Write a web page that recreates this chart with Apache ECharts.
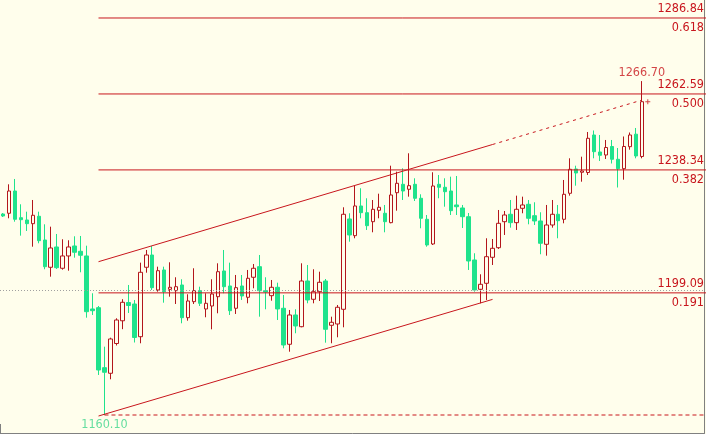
<!DOCTYPE html>
<html><head><meta charset="utf-8">
<script src="https://cdn.jsdelivr.net/npm/echarts@6/dist/echarts.min.js"></script>
<style>html,body{margin:0;padding:0;background:#fffeec;}#c{width:706px;height:434px;}</style>
</head><body><div id="c"></div>
<script>
// ---- data ----
const opens = [1224.27,1224.50,1231.61,1223.09,1222.36,1221.18,1223.54,1215.97,1207.26,1213.74,
1206.94,1210.87,1214.06,1212.37,1210.87,1193.95,1194.36,1175.21,1173.42,1182.93,
1190.18,1196.02,1195.54,1185.10,1207.26,1211.18,1200.01,1206.40,1200.23,1199.79,
1201.61,1191.17,1196.28,1199.79,1193.95,1194.90,1197.87,1206.08,1201.29,1194.17,
1201.29,1197.68,1204.07,1207.45,1199.79,1198.19,1200.87,1194.17,1182.68,1192.03,
1188.29,1202.88,1197.04,1199.47,1202.88,1188.74,1189.16,1193.85,1222.68,1217.35,
1226.83,1224.69,1221.81,1225.45,1224.50,1221.50,1231.07,1233.75,1232.16,1233.75,
1229.29,1222.58,1214.70,1233.75,1232.80,1231.61,1227.15,1226.19,1223.41,1209.59,
1200.23,1202.15,1210.45,1213.51,1221.81,1224.18,1221.50,1226.09,1227.37,1223.73,
1222.04,1214.60,1220.76,1224.18,1222.58,1230.88,1238.64,1237.59,1237.52,1249.49,
1244.07,1243.11,1245.82,1241.74,1238.73,1245.76,1249.75,1242.63];
const closes = [1223.63,1231.61,1222.58,1222.45,1221.18,1223.86,1215.75,1207.45,1213.42,1207.13,
1210.87,1213.74,1212.05,1211.09,1193.08,1193.40,1174.47,1173.74,1184.37,1190.43,
1196.08,1195.06,1184.85,1205.66,1211.18,1200.75,1206.17,1199.47,1200.87,1201.06,
1191.17,1196.50,1199.79,1195.76,1195.76,1198.73,1205.85,1201.06,1193.40,1200.75,
1198.10,1203.75,1206.94,1199.79,1199.37,1200.87,1193.95,1182.45,1192.03,1188.52,
1202.88,1196.82,1199.47,1202.47,1187.46,1189.70,1194.49,1224.18,1217.57,1226.83,
1224.69,1220.54,1225.77,1226.41,1221.81,1230.34,1234.07,1231.61,1233.31,1229.29,
1222.90,1214.38,1233.21,1232.80,1231.39,1225.33,1226.60,1223.41,1209.27,1200.01,
1201.83,1210.64,1213.32,1221.30,1223.95,1221.50,1225.77,1227.15,1222.90,1222.04,
1214.92,1220.76,1224.18,1222.13,1230.56,1238.54,1237.36,1238.00,1248.44,1244.16,
1243.01,1245.50,1241.74,1238.73,1245.82,1249.49,1242.79,1260.12];
const lows = [1223.31,1222.90,1221.81,1217.35,1218.85,1213.83,1214.92,1206.62,1204.26,1206.71,
1206.50,1206.17,1210.32,1205.66,1191.17,1192.03,1172.88,1160.10,1171.50,1182.29,
1187.50,1192.67,1183.25,1183.00,1205.53,1200.01,1199.47,1195.96,1197.87,1195.54,
1189.38,1190.21,1195.54,1194.90,1191.30,1187.46,1192.57,1198.96,1192.03,1192.35,
1196.82,1195.76,1200.55,1191.49,1193.85,1196.59,1190.43,1181.40,1180.31,1186.19,
1188.10,1195.76,1195.76,1196.50,1183.19,1183.00,1184.91,1188.10,1215.43,1216.52,
1222.90,1219.17,1218.43,1222.90,1218.43,1221.30,1225.33,1228.74,1229.80,1228.42,
1219.71,1213.83,1214.38,1229.29,1226.60,1223.95,1223.95,1219.80,1206.40,1199.47,
1195.76,1196.82,1207.99,1213.10,1217.57,1219.90,1219.17,1224.50,1220.98,1220.76,
1211.41,1210.96,1219.90,1216.52,1221.30,1230.12,1233.31,1234.58,1236.72,1242.05,
1241.19,1241.83,1240.39,1232.73,1235.22,1244.80,1242.05,1242.05];
const highs = [1224.59,1233.75,1235.45,1227.37,1225.01,1228.74,1225.01,1220.98,1220.22,1217.89,
1216.20,1215.88,1217.15,1217.25,1214.15,1198.96,1194.90,1181.91,1184.78,1190.98,
1197.07,1201.61,1196.82,1208.73,1212.78,1214.06,1207.45,1207.45,1208.85,1204.07,
1203.43,1198.64,1206.94,1201.06,1198.96,1203.43,1208.53,1212.78,1208.73,1204.80,
1204.80,1206.40,1208.31,1211.18,1204.07,1203.20,1202.34,1198.41,1193.63,1193.85,
1208.53,1207.99,1206.62,1205.85,1203.52,1191.49,1195.22,1226.41,1224.50,1233.21,
1232.48,1229.29,1228.74,1230.75,1227.15,1239.69,1237.78,1238.86,1243.65,1235.67,
1230.56,1223.95,1237.59,1236.72,1235.67,1236.18,1236.40,1227.15,1224.59,1211.73,
1205.02,1216.52,1216.29,1225.55,1225.23,1228.74,1230.12,1229.80,1228.74,1228.01,
1224.82,1227.15,1228.74,1227.15,1235.13,1242.05,1239.69,1242.56,1250.45,1250.93,
1249.49,1247.90,1247.90,1245.34,1249.01,1250.29,1251.73,1266.70];

const slotCount = 118;                       // candle slots incl. empty right margin
const categories = Array.from({length: slotCount}, (_, i) => String(i));

const fibPrices = [1286.84, 1262.59, 1238.34, 1199.09];
const fibRatios = ['0.618', '0.500', '0.382', '0.191'];
const fibStartIndex = 16;
const fibEndIndex = 118;                     // one slot past the last, reaches the right edge
const baseLevel = 1160.10;
const baseLevelStartIndex = 17;
const priceLine = 1199.79;

const channelUpper = [[16, 1209.04], [82, 1246.46]];
const channelUpperRay = [[82, 1246.46], [107, 1260.63]];
const channelLower = [[16, 1159.78], [82, 1197.01]];

const highMark = [[107, 1266.70]];
const lowMark = [[17, 1160.10]];
const bidMark = [[108, 1260.12]];

const yMin = 1154.354, yMax = 1292.586;

// ---- style ----
const BG = '#fffeec', RED = '#c8161d', CRED = '#b3161c', GREEN = '#1fe38c', LGREEN = '#3ed68c', AXIS = '#808080';
const FONT = "'DejaVu Sans Condensed', 'DejaVu Sans', sans-serif";
const FS = 12.5;
const labelStyle = {color: RED, fontFamily: FONT, fontSize: FS, distance: [2, 3]};

const ohlc = opens.map((o, i) => [o, closes[i], lows[i], highs[i]]);

const labelLines = [];
fibPrices.forEach((v, i) => {
  labelLines.push([
    {coord: [fibStartIndex, v], label: {show: true, position: 'insideEndTop', formatter: v.toFixed(2)}},
    {x: '100%', yAxis: v}
  ]);
  labelLines.push([
    {coord: [fibStartIndex, v], label: {show: true, position: 'insideEndBottom', formatter: fibRatios[i]}},
    {x: '100%', yAxis: v}
  ]);
});

const fibSeries = fibPrices.map((v) => ({
  type: 'line', data: [[fibStartIndex, v], [fibEndIndex, v]], symbol: 'none', z: 6, clip: false,
  lineStyle: {color: RED, width: 1}
}));

const chart = echarts.init(document.getElementById('c'), null, {renderer: 'canvas'});
chart.setOption({
  animation: false,
  backgroundColor: BG,
  grid: {left: -3.5, top: 0, width: slotCount * 6, height: 433, containLabel: false},
  xAxis: {
    type: 'category', data: categories, boundaryGap: true,
    axisLine: {show: true, lineStyle: {color: AXIS, width: 1}},
    axisTick: {show: true, inside: true, length: 9, interval: (i) => i === 108, lineStyle: {color: AXIS}},
    axisLabel: {show: false}, splitLine: {show: false}
  },
  yAxis: {
    type: 'value', min: yMin, max: yMax, position: 'right',
    axisLine: {show: true, lineStyle: {color: AXIS}},
    axisTick: {show: false}, axisLabel: {show: false}, splitLine: {show: false}
  },
  series: [
    {
      type: 'candlestick', data: ohlc, barWidth: 4, z: 2,
      itemStyle: {color: BG, color0: GREEN, borderColor: CRED, borderColor0: GREEN, borderWidth: 1},
      markLine: {
        silent: true, symbol: ['none', 'none'],
        lineStyle: {color: '#a0a0a0', width: 1, type: [1, 2]},
        label: {show: false},
        data: [{yAxis: priceLine}]
      }
    },
    ...fibSeries,
    {type: 'line', data: [[baseLevelStartIndex, baseLevel], [fibEndIndex, baseLevel]], symbol: 'none', z: 5, clip: false,
      lineStyle: {color: RED, width: 1, type: [4, 3]}},
    {type: 'line', data: channelUpper, symbol: 'none', z: 5, lineStyle: {color: RED, width: 1}},
    {type: 'line', data: channelUpperRay, symbol: 'none', z: 5, lineStyle: {color: RED, width: 1, type: [3, 4]},
      markLine: {
        silent: true, symbol: ['none', 'none'], z: 7,
        lineStyle: {color: 'rgba(0,0,0,0)', width: 1},
        label: labelStyle,
        data: labelLines
      }
    },
    {type: 'line', data: channelLower, symbol: 'none', z: 5, lineStyle: {color: RED, width: 1}},
    {type: 'scatter', data: highMark, symbolSize: 0, z: 7,
      label: {show: true, position: 'top', distance: 2, color: RED, fontFamily: FONT, fontSize: FS, formatter: p => p.value[1].toFixed(2)}},
    {type: 'scatter', data: lowMark, symbolSize: 0, z: 7,
      label: {show: true, position: 'bottom', distance: 3, color: LGREEN, fontFamily: FONT, fontSize: FS, formatter: p => p.value[1].toFixed(2)}},
    {type: 'scatter', data: bidMark, symbol: 'path://M0,2H2V0H3V2H5V3H3V5H2V3H0Z', symbolSize: 5, z: 7,
      itemStyle: {color: RED}}
  ]
});
</script></body></html>
